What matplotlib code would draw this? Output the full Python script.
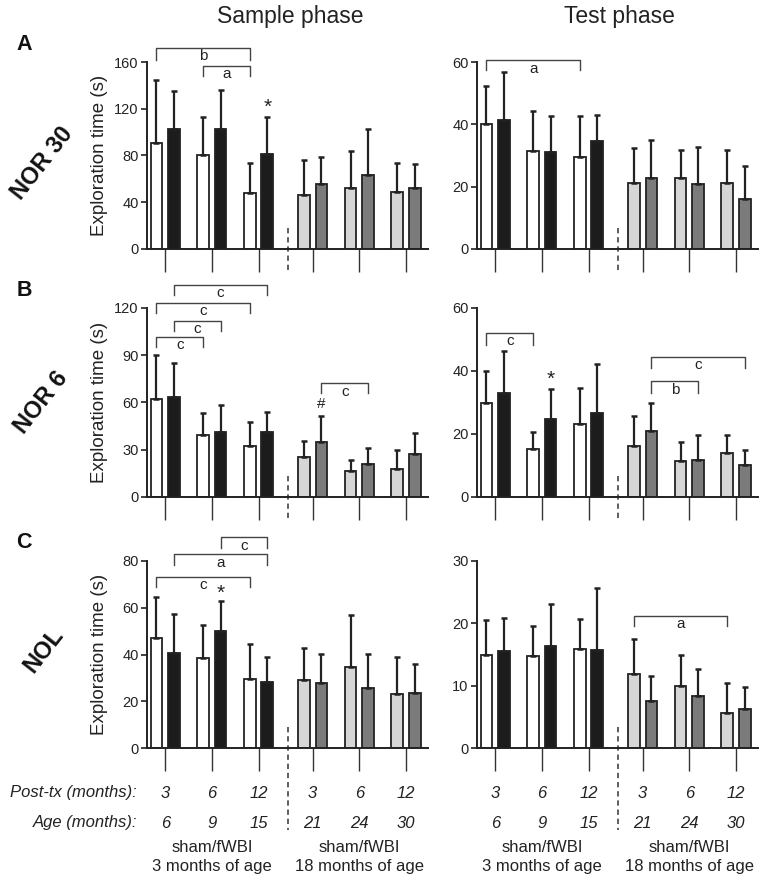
import matplotlib
matplotlib.use("Agg")
import matplotlib.pyplot as plt
import matplotlib.transforms as mtransforms
import numpy as np

plt.rcParams['font.family'] = ['Liberation Sans', 'DejaVu Sans']

W_PX, H_PX = 764, 886

POST_TX = ["3", "6", "12", "3", "6", "12"]
AGE = ["6", "9", "15", "21", "24", "30"]
ROW_NAMES = ["NOR 30", "NOR 6", "NOL"]
PANEL_LETTERS = ["A", "B", "C"]
PHASES = ["Sample phase", "Test phase"]
COHORTS = ["sham/fWBI\n3 months of age", "sham/fWBI\n18 months of age"]

# bar order per panel: (sham, fWBI) x 6 time points
nor30_sample_mean = [90.4, 102.4, 80.4, 102.6, 47.6, 81.3, 46.2, 55.6, 51.9, 63.3, 48.5, 51.9]
nor30_sample_err = [54.6, 32.6, 32.2, 33.4, 26.0, 31.3, 29.9, 23.4, 31.7, 39.1, 24.8, 20.5]
nor30_test_mean = [40.1, 41.4, 31.5, 31.2, 29.4, 34.6, 21.1, 22.9, 22.9, 20.9, 21.2, 16.1]
nor30_test_err = [12.2, 15.4, 12.9, 11.6, 13.4, 8.4, 11.2, 12.1, 9.0, 11.9, 10.7, 10.5]

nor6_sample_mean = [62.2, 63.7, 39.1, 41.0, 32.4, 41.5, 25.2, 34.7, 16.5, 21.0, 17.6, 27.3]
nor6_sample_err = [28.0, 21.6, 14.4, 17.2, 15.4, 12.5, 10.6, 16.9, 7.0, 10.3, 12.2, 13.1]
nor6_test_mean = [29.7, 33.1, 15.3, 24.8, 23.1, 26.7, 16.3, 20.9, 11.5, 11.9, 14.0, 10.2]
nor6_test_err = [10.2, 13.2, 5.3, 9.4, 11.5, 15.6, 9.4, 9.0, 5.9, 7.7, 5.6, 4.6]

nol_sample_mean = [46.9, 40.8, 38.4, 50.1, 29.4, 28.1, 29.1, 27.9, 34.5, 25.8, 23.3, 23.7]
nol_sample_err = [17.8, 16.4, 14.2, 12.9, 15.0, 10.8, 13.5, 12.2, 22.4, 14.3, 15.7, 12.2]
nol_test_mean = [14.9, 15.6, 14.8, 16.4, 15.9, 15.7, 11.8, 7.6, 9.9, 8.4, 5.6, 6.3]
nol_test_err = [5.6, 5.2, 4.8, 6.7, 4.8, 9.9, 5.7, 4.0, 5.1, 4.2, 4.9, 3.5]

Y_MAX = [[160, 60], [120, 60], [80, 30]]
Y_STEP = [[40, 20], [30, 20], [20, 10]]

# significance brackets: (bar i, bar j, top, leg end, letter)
brackets = {
    (0, 0): [(0, 4, 172, 162, "b"), (2, 4, 156.5, 148, "a")],
    (0, 1): [(0, 4, 60.5, 57.4, "a")],
    (1, 0): [(1, 5, 134.6, 128.3, "c"), (0, 4, 123.4, 117, "c"),
             (1, 3, 111.7, 105.4, "c"), (0, 2, 101.8, 95.4, "c"),
             (7, 9, 72.2, 66, "c")],
    (1, 1): [(0, 2, 52.0, 48.4, "c"), (7, 11, 44.4, 41.0, "c"),
             (7, 9, 36.7, 33.1, "b")],
    (2, 0): [(3, 5, 90.1, 85.4, "c"), (1, 5, 82.8, 78.3, "a"),
             (0, 4, 73.3, 68.7, "c")],
    (2, 1): [(6, 10, 21.2, 19.5, "a")],
}
# single-bar marks: (bar, y, symbol)
marks = {
    (0, 0): [(5, 121.5, "*")],
    (1, 0): [(7, 59, "#")],
    (1, 1): [(3, 37.5, "*")],
    (2, 0): [(3, 66.3, "*")],
}

GROUP_X = np.array([0, 1, 2, 3.16, 4.16, 5.16])
DASH_X = 2.62
OFF = 0.187
BAR_W = 0.25
COLORS = ["white", "#1c1c1c"] * 3 + ["#d6d6d6", "#7b7b7b"] * 3
INK = "#222222"


def fx(px):
    return px / W_PX


def fy(py):
    return 1 - py / H_PX


def bar_positions():
    xs = []
    for g in GROUP_X:
        xs += [g - OFF, g + OFF]
    return np.array(xs)


def draw_panel(fig, ax, mean, err, row, col):
    xs = bar_positions()
    ax.bar(xs, mean, width=BAR_W, color=COLORS, edgecolor=INK, linewidth=1.3, zorder=2)
    ax.errorbar(xs, mean, yerr=[np.zeros(len(err)), err], fmt='none', ecolor=INK,
                elinewidth=1.6, capsize=2.5, capthick=1.8, zorder=3)

    ax.set_xlim(-0.39, 5.63)
    ax.set_ylim(0, Y_MAX[row][col])
    ax.set_yticks(np.arange(0, Y_MAX[row][col] + 1, Y_STEP[row][col]))
    ax.set_xticks(GROUP_X)
    ax.set_xticklabels([])
    ax.tick_params(axis='x', length=16.5, width=1.0, color='#333333', direction='out')
    ax.tick_params(axis='y', length=4, width=1.2, color=INK, labelsize=10.5,
                   labelcolor=INK, pad=2)
    for s in ["top", "right"]:
        ax.spines[s].set_visible(False)
    for s in ["left", "bottom"]:
        ax.spines[s].set_linewidth(1.4)
        ax.spines[s].set_color(INK)

    trans = mtransforms.blended_transform_factory(ax.transData, ax.transAxes)
    bottom = -0.44 if row == 2 else -0.123
    ax.plot([DASH_X, DASH_X], [0.112, bottom], transform=trans, clip_on=False,
            color='#333333', lw=1.1, ls=(0, (3.5, 2.5)))

    lab_tr = mtransforms.offset_copy(ax.transData, fig=fig, y=-8.8, units='points')
    for i, j, top, leg, letter in brackets.get((row, col), []):
        ax.plot([xs[i], xs[i], xs[j], xs[j]], [leg, top, top, leg], color='#444444',
                lw=1.0, clip_on=False, zorder=4)
        ax.text((xs[i] + xs[j]) / 2, top, letter, transform=lab_tr, ha='center',
                va='baseline', fontsize=11, color=INK)

    for b, y, sym in marks.get((row, col), []):
        size = 15 if sym == "*" else 11
        ax.text(xs[b], y, sym, ha='center', va='center', fontsize=size, color=INK)

    if col == 0:
        ax.text(-0.169, 0.5, "Exploration time (s)", transform=ax.transAxes,
                rotation=90, ha='center', va='center', fontsize=13.5, color=INK)


def main():
    fig = plt.figure(figsize=(W_PX / 100, H_PX / 100), dpi=100)

    data = [
        [(nor30_sample_mean, nor30_sample_err), (nor30_test_mean, nor30_test_err)],
        [(nor6_sample_mean, nor6_sample_err), (nor6_test_mean, nor6_test_err)],
        [(nol_sample_mean, nol_sample_err), (nol_test_mean, nol_test_err)],
    ]
    rows_px = [(62, 249), (308, 497), (561, 748)]
    cols_px = [(147, 428), (477, 758)]

    axes = []
    for r, (top, bot) in enumerate(rows_px):
        line = []
        for c, (left, right) in enumerate(cols_px):
            ax = fig.add_axes([fx(left), fy(bot), fx(right - left), (bot - top) / H_PX])
            draw_panel(fig, ax, data[r][c][0], data[r][c][1], r, c)
            line.append(ax)
        axes.append(line)

    # column titles
    fig.text(fx(290), fy(16), PHASES[0], ha='center', va='center', fontsize=16.5, color=INK)
    fig.text(fx(619), fy(16), PHASES[1], ha='center', va='center', fontsize=16.5, color=INK)

    # panel letters and row names
    letter_y = [45, 291, 543]
    name_pos = [(42, 163), (41, 403), (44, 650)]
    for r in range(3):
        fig.text(fx(24), fy(letter_y[r]), PANEL_LETTERS[r], ha='center', va='center',
                 fontsize=15.5, fontweight='bold', color='#111111')
        fig.text(fx(name_pos[r][0]), fy(name_pos[r][1]), ROW_NAMES[r], ha='center',
                 va='center', rotation=52, rotation_mode='anchor', fontsize=17,
                 fontweight='bold', color='#111111')

    # bottom x labels
    fig.text(fx(137), fy(793), "Post-tx (months):", ha='right', va='center',
             fontsize=12, style='italic', color=INK)
    fig.text(fx(137), fy(823), "Age (months):", ha='right', va='center',
             fontsize=12, style='italic', color=INK)
    for ax in axes[2]:
        tr = mtransforms.blended_transform_factory(ax.transData, fig.transFigure)
        for k, g in enumerate(GROUP_X):
            ax.text(g, fy(793), POST_TX[k], transform=tr, ha='center', va='center',
                    fontsize=12, style='italic', color=INK)
            ax.text(g, fy(823), AGE[k], transform=tr, ha='center', va='center',
                    fontsize=12, style='italic', color=INK)
        for h, cohort in enumerate(COHORTS):
            ax.text(GROUP_X[1 + 3 * h], fy(857), cohort, transform=tr, ha='center',
                    va='center', fontsize=12, color=INK, linespacing=1.35)

    fig.savefig("out.png", dpi=100)


if __name__ == "__main__":
    main()
